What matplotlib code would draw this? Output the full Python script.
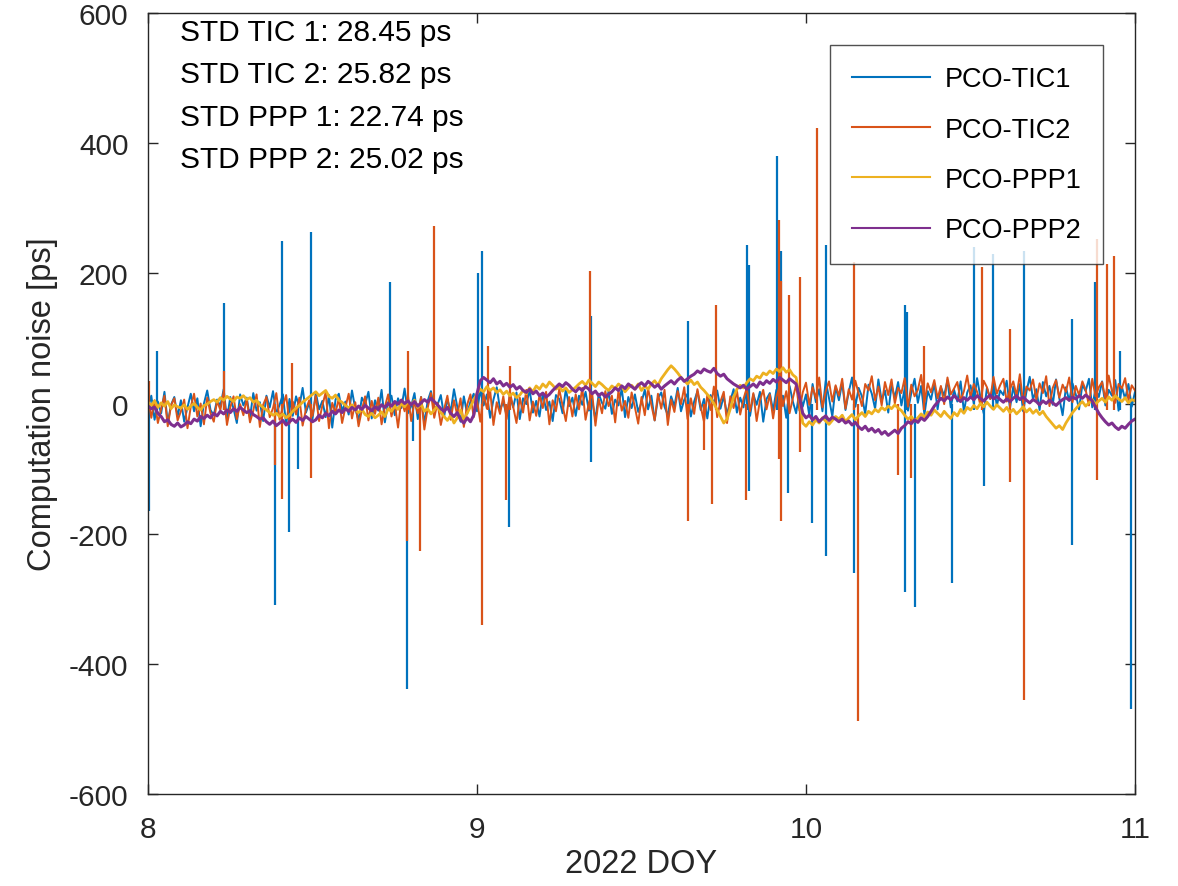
import numpy as np
import matplotlib
matplotlib.use("Agg")
import matplotlib.pyplot as plt

# ---------------- data ----------------
doy_start, doy_end = 8.0, 11.0

tic1 = [
    -8, 12, -25, 3, -15, 18, -30, -2, 10, -20,
    5, -28, -6, 15, -12, 8, -35, 0, 20, -10,
    -18, 6, -4, 22, -25, 10, -8, -30, 14, -3,
    9, -22, 16, -11, 2, -27, 12, -6, 19, -16,
    -2, 14, -33, 7, -19, 11, -5, 24, -14, 1,
    -24, 17, -9, 4, -21, 13, -37, 6, 15, -12,
    3, -17, 20, -8, -26, 9, -1, 18, -23, 5,
    -11, 21, -29, 2, 12, -18, 8, -7, 23, -15,
    -4, 16, -24, 10, -31, 4, 19, -10, -2, 13,
    -20, 7, -13, 22, -5, -28, 11, -16, 3, 15,
    -12, 20, -3, 14, -22, 6, 25, -9, 2, -18,
    11, -6, 17, -24, 8, -1, 21, -14, 4, -20,
    16, -10, 3, -27, 13, 7, -15, 22, -4, 9,
    -19, 12, -2, 18, -11, 5, -25, 15, 1, -8,
    19, -16, 6, -3, 23, -21, 10, -7, 14, -13,
    2, 21, -9, 12, -26, 8, 17, -5, -18, 11,
    -4, 24, -12, 6, 15, -20, 3, 19, -10, 7,
    -23, 13, 0, 20, -8, 11, -17, 4, 22, -14,
    9, -6, 25, -19, 14, -2, 18, -28, 7, 16,
    -11, 21, -7, 12, -22, 27, 3, -15, 19, -5,
    14, -18, 30, 2, 22, -12, 35, 8, -20, 26,
    5, 32, -10, 18, 40, -5, 24, 11, -16, 29,
    15, -8, 37, 4, 20, -14, 28, 9, 33, -3,
    23, -11, 16, 38, 1, 27, -17, 19, 6, 31,
    -9, 25, 12, 36, -6, 21, 3, 34, -13, 17,
    28, 0, 39, 10, -15, 24, 7, 32, -4, 20,
    13, 35, -7, 26, 2, 30, -12, 18, 41, 6,
    22, -10, 33, 11, 27, -2, 37, 8, -18, 25,
    4, 31, 14, -9, 29, 19, 38, -6, 23, 10,
    34, -3, 21, 12, 36, -11, 26, 7, 30, -5,
    18,
]

tic2 = [
    10, -22, 5, -30, -8, 12, -35, -3, 8, -26,
    -12, 6, -38, -5, 15, -20, 0, -32, 9, -15,
    -28, 4, -10, 18, -33, -6, 11, -24, -1, -18,
    7, -29, -11, 14, -36, -2, 10, -21, -7, 16,
    -25, -4, 13, -31, 3, -17, 9, -34, -9, 5,
    -19, 12, -27, -3, 17, -38, 1, -14, 8, -30,
    -6, 15, -23, 2, -35, -10, 11, -26, 4, -16,
    9, -32, -5, 14, -20, 0, -37, 6, -12, 13,
    -27, 3, -15, 10, -40, -7, 16, -22, 1, -33,
    -9, 12, -25, 5, -18, 8, -36, -2, 14, -21,
    6, -28, 15, -8, 20, -33, 2, -16, 11, -24,
    17, -5, -30, 9, -14, 21, -26, 3, -19, 13,
    -7, 18, -32, 5, -12, 22, -3, -27, 10, -20,
    14, -9, 24, -25, 1, 16, -34, 7, -15, 19,
    -4, 12, -29, 20, -11, 4, -22, 17, -6, -31,
    10, -18, 23, -2, -26, 15, -8, 21, -33, 6,
    -13, 19, -1, 25, -24, 8, -16, 22, -5, -28,
    13, -10, 26, -21, 3, 18, -30, 11, -7, 20,
    -17, 7, 24, -12, 16, -27, 5, 21, -9, 14,
    -23, 10, 27, -4, 19, -15, 8, 29, -11, 17,
    32, -2, 25, 8, 40, -6, 19, 34, 3, 28,
    12, 38, -8, 22, 6, 35, 15, -4, 30, 20,
    42, 5, 26, -3, 33, 13, 37, 0, 24, 16,
    39, -5, 29, 11, 21, 44, 2, 31, 17, 36,
    8, 27, -1, 40, 14, 23, 33, 4, 19, 43,
    10, 30, 18, -2, 35, 25, 7, 41, 15, 28,
    38, 3, 22, 34, 12, 45, 0, 26, 20, 37,
    6, 31, 16, 42, -4, 24, 36, 9, 29, 18,
    40, 2, 27, 13, 34, 21, -3, 38, 11, 25,
    33, 7, 43, 19, 1, 30, 23, 39, 5, 28,
    20,
]

ppp1 = [
    2, -3, 4, -6, 1, -4, 3, -8, -2, -5,
    -7, -2, -9, -4, 0, -6, -10, -3, -1, 3,
    6, 2, 9, 5, 11, 7, 3, 10, 8, 12,
    6, 9, 2, 5, -2, -6, -10, -14, -18, -15,
    -20, -16, -22, -18, -12, -7, -3, 2, 6, 10,
    14, 18, 12, 16, 20, 11, 8, 13, 5, 2,
    -3, -7, -2, -10, -14, -9, -17, -20, -15, -22,
    -18, -13, -20, -8, -12, -4, -9, 0, -5, 3,
    -2, 5, -6, -1, -12, -8, -16, -10, -4, -14,
    -20, -26, -18, -30, -22, -10, -25, -15, -5, 5,
    15, 22, 18, 26, 20, 24, 17, 21, 14, 19,
    12, 16, 9, 13, 20, 15, 24, 18, 27, 22,
    30, 25, 33, 28, 22, 26, 19, 24, 17, 21,
    25, 30, 34, 28, 36, 31, 26, 33, 29, 24,
    20, 27, 23, 30, 26, 18, 24, 28, 22, 30,
    20, 27, 22, 30, 35, 28, 38, 45, 52, 58,
    53, 47, 40, 35, 30, 36, 29, 33, 25, 20,
    14, 8, 0, -10, -20, -30, -24, -8, 10, 22,
    28, 24, 32, 38, 35, 42, 39, 47, 44, 50,
    46, 53, 49, 55, 48, 52, 44, 40, 10, -30,
    -35, -28, -33, -25, -30, -22, -27, -32, -26, -20,
    -24, -18, -28, -22, -17, -25, -19, -14, -20, -12,
    -16, -9, -13, -6, -10, -4, -8, -2, -7, -11,
    -18, -24, -20, -27, -22, -16, -21, -13, -18, -10,
    -15, -20, -12, -18, -23, -14, -19, -9, -15, -6,
    -10, -3, -8, 0, -5, 2, -4, -9, -2, -7,
    -12, -6, -14, -9, -16, -11, -5, -13, -8, -15,
    -10, -17, -12, -20, -26, -32, -38, -34, -40, -30,
    -22, -14, -8, -2, 3, -4, 1, 6, -1, 4,
    8, 2, 10, 5, 12, 7, 3, 9, 1, 6,
    4,
]

ppp2 = [
    -4, -8, -6, -15, -20, -28, -25, -32, -35, -30,
    -36, -33, -28, -31, -24, -27, -20, -23, -18, -22,
    -15, -19, -12, -16, -10, -14, -8, -12, -6, -10,
    -14, -11, -17, -20, -24, -22, -28, -32, -27, -34,
    -30, -26, -33, -28, -24, -29, -22, -26, -20, -24,
    -28, -25, -18, -22, -15, -19, -12, -16, -10, -14,
    -8, -12, -6, -10, -4, -9, -3, -7, -11, -5,
    -9, -2, -6, 0, -4, 3, -1, 5, 0, 4,
    -2, 3, -4, 1, 6, 2, 8, 3, -2, -8,
    -12, -6, -15, -20, -14, -25, -30, -22, -28, -18,
    15, 35, 40, 36, 32, 38, 30, 34, 27, 31,
    25, 29, 22, 26, 20, 17, 22, 15, 19, 12,
    16, 10, 14, 20, 25, 30, 26, 32, 28, 22,
    18, 24, 20, 26, 22, 15, 19, 12, 16, 10,
    14, 18, 24, 20, 27, 23, 30, 26, 22, 28,
    32, 27, 34, 30, 25, 29, 22, 27, 31, 35,
    30, 36, 40, 34, 38, 42, 45, 50, 47, 53,
    50, 48, 54, 46, 42, 45, 38, 34, 30, 27,
    24, 28, 22, 26, 30, 25, 33, 29, 35, 31,
    37, 33, 40, 36, 32, 38, 34, 30, 10, -15,
    -22, -18, -25, -20, -28, -23, -19, -26, -21, -24,
    -28, -24, -30, -27, -33, -29, -36, -40, -35, -42,
    -38, -44, -40, -47, -43, -49, -45, -41, -46, -38,
    -34, -28, -31, -25, -29, -22, -26, -20, -12, -4,
    2, 8, 4, 10, 6, 12, 7, 3, 9, 5,
    10, 6, 12, 8, 4, 9, 13, 7, 11, 6,
    2, 7, 3, 8, 12, 6, 10, 5, 1, 6,
    3, -2, 4, 0, 5, 1, -3, 2, 6, 9,
    5, 10, 7, 12, 8, 13, 9, 4, -6, -15,
    -22, -28, -33, -30, -36, -40, -35, -38, -32, -27,
    -24,
]

# outlier spikes: DOY, lowest value, highest value
tic1_spike_doy = [8.003, 8.027, 8.231, 8.386, 8.408, 8.430, 8.456, 8.496, 8.735, 8.787,
                  8.805, 9.003, 9.015, 9.097, 9.346, 9.641, 9.821, 9.827, 9.912, 9.924,
                  9.945, 10.018, 10.061, 10.146, 10.300, 10.307, 10.330, 10.444, 10.510, 10.540,
                  10.568, 10.663, 10.810, 10.878, 10.955, 10.988]
tic1_spike_lo = [-165, -10, -10, -310, -10, -197, -100, -10, -10, -438,
                 -58, -10, -10, -189, -90, -10, -10, -135, -10, -10,
                 -138, -184, -235, -261, -289, -10, -313, -276, -10, -126,
                 -10, -10, -218, -10, -10, -469]
tic1_spike_hi = [0, 80, 155, 0, 249, 0, 0, 263, 186, 0,
                 0, 200, 235, 0, 135, 126, 243, 213, 381, 235,
                 0, 0, 243, 0, 152, 141, 0, 0, 240, 0,
                 230, 235, 130, 186, 80, 0]

tic2_spike_doy = [8.003, 8.231, 8.387, 8.408, 8.437, 8.496, 8.787, 8.790, 8.827, 8.869,
                  9.015, 9.033, 9.088, 9.100, 9.343, 9.641, 9.690, 9.714, 9.726, 9.818,
                  9.917, 9.923, 9.948, 9.982, 10.033, 10.146, 10.158, 10.280, 10.320, 10.360,
                  10.535, 10.620, 10.663, 10.886, 10.915, 10.935]
tic2_spike_lo = [-10, -10, -95, -146, -10, -115, -212, -10, -227, -10,
                 -340, -10, -149, -10, -10, -181, -72, -155, -10, -149,
                 -85, -181, -10, -74, -10, -10, -488, -110, -115, -10,
                 -10, -120, -455, -117, -10, -10]
tic2_spike_hi = [35, 50, 0, 0, 62, 0, 0, 80, 0, 273,
                 0, 88, 0, 58, 204, 0, 0, 0, 152, 0,
                 282, 188, 166, 195, 424, 218, 0, 0, 0, 88,
                 209, 115, 0, 253, 215, 227]

series_names = ["PCO-TIC1", "PCO-TIC2", "PCO-PPP1", "PCO-PPP2"]
std_labels = ["STD TIC 1: 28.45 ps", "STD TIC 2: 25.82 ps",
              "STD PPP 1: 22.74 ps", "STD PPP 2: 25.02 ps"]
x_ticks = [8, 9, 10, 11]
y_ticks = [-600, -400, -200, 0, 200, 400, 600]

# ---------------- style ----------------
colors = ["#0072BD", "#D95319", "#EDB120", "#7E2F8E"]
axcol = "#262626"
plt.rcParams["font.family"] = ["Liberation Sans", "DejaVu Sans"]

fig = plt.figure(figsize=(11.78, 8.87), dpi=100)
ax = fig.add_axes([148 / 1178, 1 - 795 / 887, (1135 - 148) / 1178, (795 - 14) / 887])

t_tic1 = np.linspace(doy_start, doy_end, len(tic1))
t_tic2 = np.linspace(doy_start, doy_end, len(tic2))
t_ppp1 = np.linspace(doy_start, doy_end, len(ppp1))
t_ppp2 = np.linspace(doy_start, doy_end, len(ppp2))

h1, = ax.plot(t_tic1, tic1, color=colors[0], lw=1.4, label=series_names[0])
ax.vlines(tic1_spike_doy, tic1_spike_lo, tic1_spike_hi, color=colors[0], lw=1.6)
h2, = ax.plot(t_tic2, tic2, color=colors[1], lw=1.4, label=series_names[1])
ax.vlines(tic2_spike_doy, tic2_spike_lo, tic2_spike_hi, color=colors[1], lw=1.6)
h3, = ax.plot(t_ppp1, ppp1, color=colors[2], lw=2.0, label=series_names[2])
h4, = ax.plot(t_ppp2, ppp2, color=colors[3], lw=2.2, label=series_names[3])

ax.set_xlim(8, 11)
ax.set_ylim(-600, 600)
ax.set_xticks(x_ticks)
ax.set_yticks(y_ticks)
ax.set_xticklabels([str(v) for v in x_ticks])
ax.set_yticklabels([str(v) for v in y_ticks])
ax.tick_params(direction="in", top=True, right=True, length=7, width=1.0,
               colors=axcol, labelsize=21.5, labelcolor=axcol)
ax.tick_params(axis="y", pad=14)
ax.tick_params(axis="x", pad=15)
for sp in ax.spines.values():
    sp.set_color(axcol)
    sp.set_linewidth(1.0)

ax.set_xlabel("2022 DOY", fontsize=23.5, color=axcol, labelpad=4)
ax.set_ylabel("Computation noise [ps]", fontsize=23.5, color=axcol, labelpad=8)

for i, s in enumerate(std_labels):
    fig.text(180 / 1178, 1 - (33 + i * 42.3) / 887, s, fontsize=21.5, color="black",
             va="center", ha="left")

leg = ax.legend(handles=[h1, h2, h3, h4], loc="upper right",
                bbox_to_anchor=(1103 / 1178, 1 - 46 / 887), bbox_transform=fig.transFigure,
                fontsize=19.5, frameon=True, fancybox=False, edgecolor=axcol,
                handlelength=2.9, handletextpad=0.55, labelspacing=0.9,
                borderpad=0.78, borderaxespad=0)
leg.get_frame().set_linewidth(1.0)
for lh in leg.get_lines():
    lh.set_linewidth(1.5)

fig.savefig("out.png", dpi=100)
